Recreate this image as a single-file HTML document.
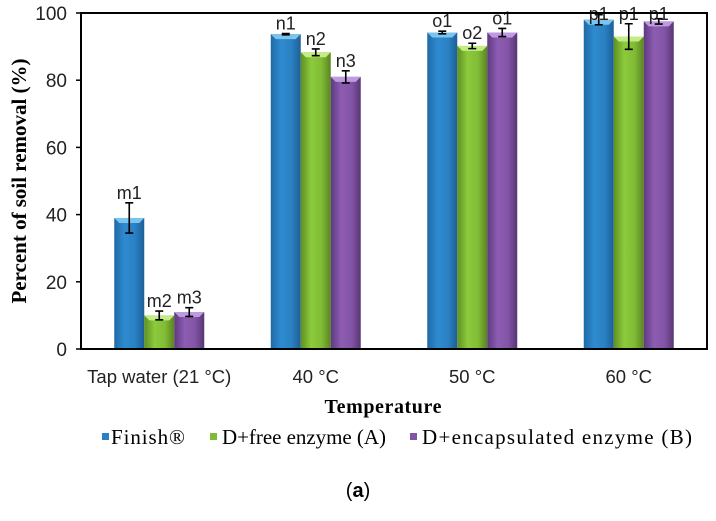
<!DOCTYPE html>
<html><head><meta charset="utf-8"><style>
body{margin:0;background:#fff;width:716px;height:516px;overflow:hidden}
svg text{font-family:"Liberation Sans",sans-serif}
.serif{font-family:"Liberation Serif",serif}
</style></head><body>
<svg id="chart" width="716" height="516" xmlns="http://www.w3.org/2000/svg">
<defs>
<linearGradient id="gb" x1="0" x2="1"><stop offset="0" stop-color="#1f6aa6"/><stop offset="0.35" stop-color="#2f8bd0"/><stop offset="0.7" stop-color="#2a80c2"/><stop offset="1" stop-color="#1d5f96"/></linearGradient>
<linearGradient id="gg" x1="0" x2="1"><stop offset="0" stop-color="#5f8f22"/><stop offset="0.35" stop-color="#8ccb3c"/><stop offset="0.7" stop-color="#80bb35"/><stop offset="1" stop-color="#5a8420"/></linearGradient>
<linearGradient id="gp" x1="0" x2="1"><stop offset="0" stop-color="#5e3a7e"/><stop offset="0.35" stop-color="#8d5cb3"/><stop offset="0.7" stop-color="#8254a6"/><stop offset="1" stop-color="#573672"/></linearGradient>
</defs>
<g id="plot"></g>
<text class="serif" x="0" y="0" font-size="21" font-weight="bold" text-anchor="middle" transform="translate(26 181) rotate(-90)" textLength="245">Percent of soil removal (%)</text>
<text class="serif" x="383" y="413" font-size="20" font-weight="bold" text-anchor="middle" textLength="117">Temperature</text>
<g>
<g><rect x="102" y="433" width="7" height="7" fill="#2a80c2"/><text class="serif" x="111" y="444" font-size="21" textLength="74">Finish®</text></g>
<g><rect x="210" y="433" width="7" height="7" fill="#80bb35"/><text class="serif" x="222" y="444" font-size="21" textLength="164">D+free enzyme (A)</text></g>
<g><rect x="410" y="433" width="7" height="7" fill="#8254a6"/><text class="serif" x="422" y="444" font-size="21" textLength="270">D+encapsulated enzyme (B)</text></g>
</g>
<text x="358" y="497" font-size="20" text-anchor="middle">(<tspan font-weight="bold">a</tspan>)</text>
</svg>
<script>
const categories=["Tap water (21 °C)","40 °C","50 °C","60 °C"];
const finish=[39,93.7,94.2,98];
const freeEnz=[10,88.3,90.2,93];
const encEnz=[11,81,94.2,97.5];
const finishErr=[4.5,0.2,0.4,1.5];
const freeErr=[1.3,1,0.8,3.8];
const encErr=[1.3,1.8,1.2,0.8];
const finishLab=["m1","n1","o1","p1"];
const freeLab=["m2","n2","o2","p1"];
const encLab=["m3","n3","o1","p1"];
const yTicks=[0,20,40,60,80,100];
const X0=81,X1=707,Y0=349,Y1=13;
const y=v=>Y0-(v/100)*(Y0-Y1);
const band=(X1-X0)/categories.length;
const cx=i=>X0+band*(i+0.5);
const g=document.getElementById('plot');
const NS='http://www.w3.org/2000/svg';
function mk(t,a){const e=document.createElementNS(NS,t);for(const k in a)e.setAttribute(k,a[k]);g.appendChild(e);return e;}
yTicks.forEach(t=>{
 const l=mk('text',{x:X0-14,y:y(t)+7,'font-size':19,'text-anchor':'end',fill:'#222'});l.textContent=t;
 
 
 const tk=mk('line',{x1:X0-5,x2:X0,y1:y(t),y2:y(t),stroke:'#000','stroke-width':1.5});
 
 
});
categories.forEach((c,i)=>{
 const l=mk('text',{x:cx(i),y:383,'font-size':18.5,'text-anchor':'middle',fill:'#222'});l.textContent=c;
 
 
});
const series=[[finish,finishErr,finishLab,'gb','#7cc4f0','finish'],[freeEnz,freeErr,freeLab,'gg','#c4ec86','free-enzyme'],[encEnz,encErr,encLab,'gp','#c09ae0','encapsulated-enzyme']];
const bw=30;
series.forEach((s,si)=>{
 s[0].forEach((v,i)=>{
  const x=cx(i)-45+si*bw;
  const r=mk('rect',{x:x,y:y(v),width:bw,height:Y0-y(v),fill:'url(#'+s[3]+')'});
  
  
  const cap=mk('path',{d:`M${x} ${y(v)}h${bw}l-5 5h-${bw-10}z`,fill:s[4]});
  
  
  const e=s[1][i],m=x+bw/2;
  const eb=mk('path',{d:`M${m} ${y(v+e)}V${y(v-e)}M${m-4} ${y(v+e)}h8M${m-4} ${y(v-e)}h8`,stroke:'#000','stroke-width':1.6,fill:'none'});
  
  
  const t=mk('text',{x:m,y:Math.max(y(v+e)-4,20),'font-size':18,'text-anchor':'middle',fill:'#222'});
  t.textContent=s[2][i];
  
  
 });
});
const ax=mk('rect',{x:X0,y:Y1,width:X1-X0,height:Y0-Y1,fill:'none',stroke:'#000','stroke-width':2});


</script>
</body></html>
